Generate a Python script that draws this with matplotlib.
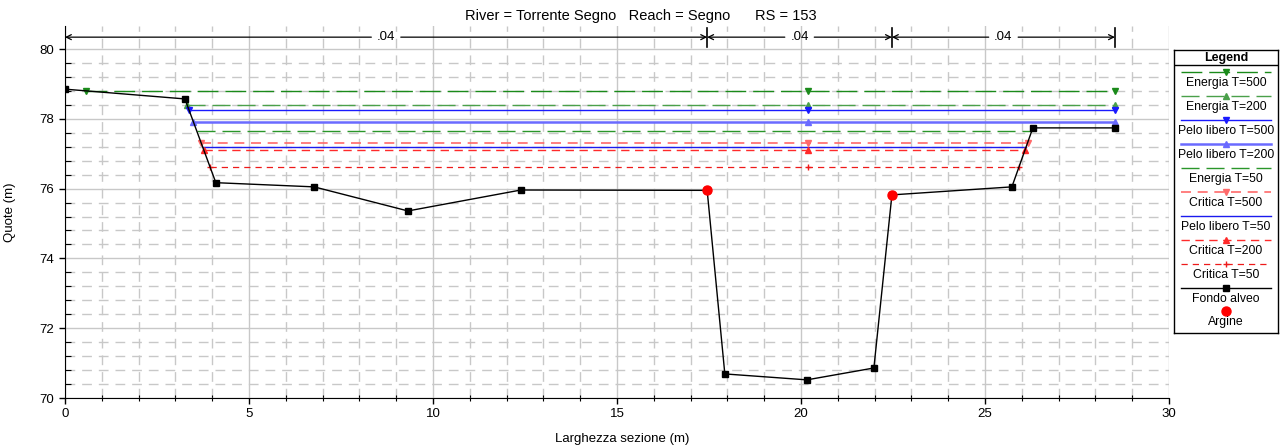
import numpy as np
import matplotlib.pyplot as plt

plt.rcParams['font.family'] = ['Liberation Sans', 'DejaVu Sans']
plt.rcParams['font.size'] = 9

# ground profile (Fondo alveo)
station = [0.0, 3.26, 4.1, 6.77, 9.32, 12.39, 17.45, 17.93, 20.16, 21.98, 22.47, 25.73, 26.3, 28.53]
elev = [78.85, 78.57, 76.17, 76.05, 75.36, 75.96, 75.95, 70.69, 70.52, 70.86, 75.82, 76.05, 77.74, 77.74]

# bank stations (Argine)
bank_x = [17.45, 22.47]
bank_y = [75.95, 75.82]

# manning n regions
n_bounds = [0.0, 17.45, 22.47, 28.53]
n_vals = ['.04', '.04', '.04']

# water surfaces
ws_names = ['Energia T=500', 'Energia T=200', 'Pelo libero T=500', 'Pelo libero T=200',
            'Energia T=50', 'Critica T=500', 'Pelo libero T=50', 'Critica T=200', 'Critica T=50']
ws_levels = [78.8, 78.41, 78.25, 77.91, 77.65, 77.31, 77.2, 77.12, 76.63]
ws_colors = ['#1a8a1a', '#4aa04a', '#1a1aff', '#6a6aff', '#2a962a', '#ff6a6a', '#1a1aee', '#ff2a2a', '#ee1a1a']
ws_styles = [(0, (15, 5)), (0, (13, 5)), '-', '-', (0, (13, 5)), (0, (6, 4)), '-', (0, (6, 4)), (0, (5, 4))]
ws_widths = [1.0, 1.0, 1.0, 1.8, 1.0, 1.2, 1.0, 1.0, 0.9]
ws_markers = ['v', '^', 'v', '^', None, 'v', None, '^', '+']
mid_station = 20.2


def wet_extent(level):
    xs = np.array(station)
    ys = np.array(elev)
    left = None
    for i in range(len(xs) - 1):
        if ys[i] >= level > ys[i + 1]:
            left = xs[i] + (ys[i] - level) / (ys[i] - ys[i + 1]) * (xs[i + 1] - xs[i])
            break
    right = xs[-1]
    for i in range(len(xs) - 1, 0, -1):
        if ys[i] >= level > ys[i - 1]:
            right = xs[i - 1] + (level - ys[i - 1]) / (ys[i] - ys[i - 1]) * (xs[i] - xs[i - 1])
            break
    return left, right


fig = plt.figure(figsize=(12.81, 4.48), dpi=100)
ax = fig.add_axes([0.0507, 0.1116, 0.8619, 0.8304])

ax.set_xlim(0, 30)
ax.set_ylim(70, 80.66)
ax.set_xticks(np.arange(0, 31, 5))
ax.set_xticks(np.arange(0, 31, 1), minor=True)
ax.set_yticks(np.arange(70, 81, 2))
ax.set_yticks(np.arange(70, 80.01, 0.4), minor=True)
ax.grid(which='major', color='#c8c8c8', lw=1.0, ls='-')
ax.grid(which='minor', color='#c8c8c8', lw=1.0, ls=(0, (7, 5)))
ax.spines['top'].set_visible(False)
ax.spines['right'].set_visible(False)
ax.tick_params(which='major', direction='out', length=4, width=1, labelsize=9.5)
ax.tick_params(which='minor', direction='inout', length=5, width=0.8)
ax.tick_params(axis='y', which='minor', direction='in', length=4)

# water surfaces
for name, lev, c, ls, lw, mk in zip(ws_names, ws_levels, ws_colors, ws_styles, ws_widths, ws_markers):
    x0, x1 = wet_extent(lev)
    ax.plot([x0, x1], [lev, lev], color=c, ls=ls, lw=lw, zorder=3)
    if mk is not None:
        ax.plot([x0, mid_station, x1], [lev] * 3, ls='none', marker=mk, color=c,
                ms=5 if mk != '+' else 4, mew=1, zorder=4)

# ground
ax.plot(station, elev, color='black', lw=1.0, marker='s', ms=4, zorder=5)
ax.plot(bank_x, bank_y, ls='none', marker='o', color='red', ms=6.5, zorder=6)

# manning n arrows
y_arr = 80.34
for i, v in enumerate(n_vals):
    xa, xb = n_bounds[i], n_bounds[i + 1]
    xm = (xa + xb) / 2
    ax.annotate('', xy=(xa, y_arr), xytext=(xm - 0.4, y_arr),
                arrowprops=dict(arrowstyle='->', color='black', lw=0.9, shrinkA=0, shrinkB=0),
                annotation_clip=False)
    ax.annotate('', xy=(xb, y_arr), xytext=(xm + 0.4, y_arr),
                arrowprops=dict(arrowstyle='->', color='black', lw=0.9, shrinkA=0, shrinkB=0),
                annotation_clip=False)
    ax.text(xm, y_arr, v, ha='center', va='center', fontsize=9.5)
for xb in n_bounds[1:]:
    ax.plot([xb, xb], [80.05, 80.6], color='black', lw=1.2, clip_on=False)

ax.set_xlabel('Larghezza sezione (m)', fontsize=9.5)
ax.set_ylabel('Quote (m)', fontsize=9.5)
ax.xaxis.set_label_coords(0.505, -0.095)
ax.yaxis.set_label_coords(-0.044, 0.5)
fig.text(0.5004, 0.964, 'River = Torrente Segno   Reach = Segno      RS = 153',
         ha='center', va='center', fontsize=10.5)

# legend drawn as a panel
lg = fig.add_axes([1174 / 1281, 1 - 333 / 448, 104 / 1281, 283 / 448])
lg.set_xlim(0, 104)
lg.set_ylim(333, 50)
lg.set_xticks([])
lg.set_yticks([])
for s in lg.spines.values():
    s.set_linewidth(1.0)
lg.text(52, 57.5, 'Legend', ha='center', va='center', fontsize=9, fontweight='bold')
lg.plot([0, 104], [65, 65], color='black', lw=1)
row_h = 24
for k, (name, c, ls, lw, mk) in enumerate(zip(ws_names, ws_colors, ws_styles, ws_widths, ws_markers)):
    yl = 72 + k * row_h
    lg.plot([7, 97], [yl, yl], color=c, ls=ls, lw=lw)
    if mk is not None:
        lg.plot([52], [yl], marker=mk, color=c, ms=5 if mk != '+' else 4, mew=1)
    lg.text(52, yl + 11, name, ha='center', va='center', fontsize=8.8)
yl = 72 + 9 * row_h
lg.plot([7, 97], [yl, yl], color='black', lw=1)
lg.plot([52], [yl], marker='s', color='black', ms=4)
lg.text(52, yl + 11, 'Fondo alveo', ha='center', va='center', fontsize=8.8)
yl = 72 + 10 * row_h - 1
lg.plot([52], [yl], marker='o', color='red', ms=6.5)
lg.text(52, yl + 11, 'Argine', ha='center', va='center', fontsize=8.8)

fig.savefig('out.png', dpi=100)
